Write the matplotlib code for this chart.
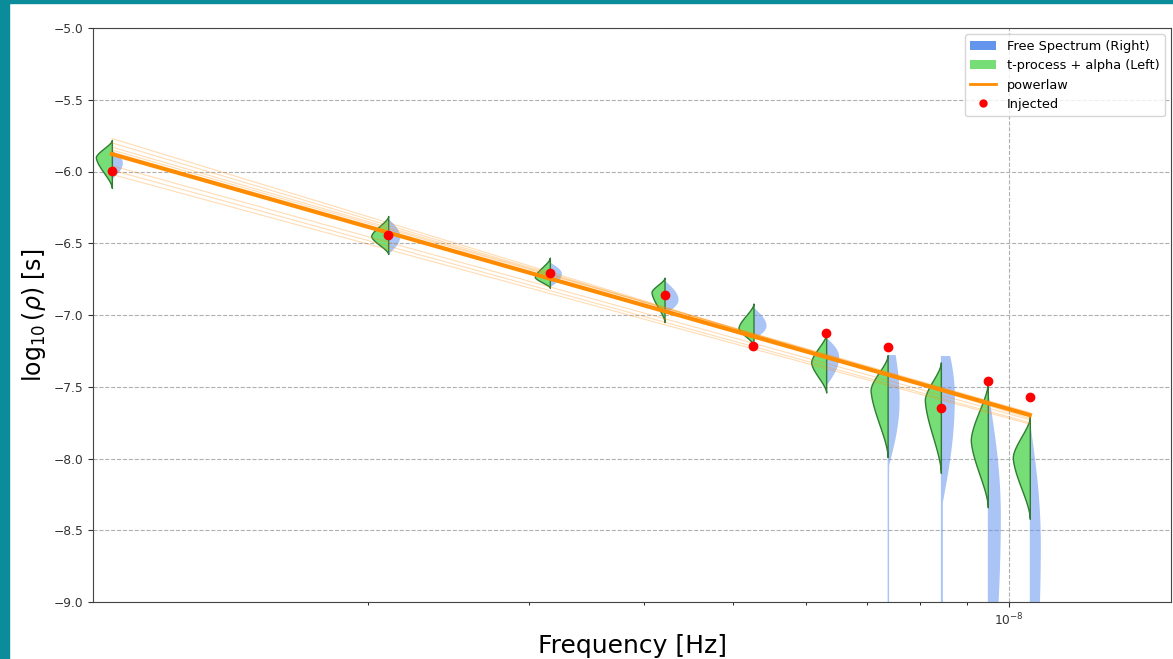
import numpy as np
import matplotlib
matplotlib.use("Agg")
import matplotlib.pyplot as plt
from matplotlib.patches import Patch, Rectangle
from matplotlib.lines import Line2D

# ---------------- data ----------------
Tspan = 9.5e8  # s
harmonics = np.arange(1, 11)
freqs = harmonics / Tspan

injected = [-5.994, -6.443, -6.707, -6.861, -7.216, -7.125, -7.223, -7.648, -7.460, -7.571]

# t-process + alpha (left halves): mode, top, bottom, peak half-width (px)
g_mode = [-5.90, -6.45, -6.735, -6.84, -7.09, -7.33, -7.52, -7.59, -7.87, -7.99]
g_top = [-5.78, -6.31, -6.60, -6.74, -6.92, -7.13, -7.28, -7.33, -7.47, -7.71]
g_bot = [-6.115, -6.575, -6.81, -7.05, -7.21, -7.54, -7.99, -8.10, -8.34, -8.42]
g_wpx = [16, 17, 15, 13, 15, 15, 17, 16, 17, 17]

# Free spectrum (right halves)
b_mode = [-5.94, -6.456, -6.714, -6.895, -7.077, -7.293, -7.59, -7.57, -8.40, -8.60]
b_top = [-5.85, -6.324, -6.631, -6.756, -6.944, -7.153, -7.00, -7.03, -7.49, -7.71]
b_bot = [-6.06, -6.582, -6.812, -7.00, -7.174, -7.502, -8.10, -8.40, -10.0, -10.2]
b_cut = [-5.85, -6.324, -6.631, -6.756, -6.944, -7.153, -7.279, -7.286, -7.49, -7.71]
b_wpx = [11, 12, 12, 14, 13, 13, 12, 14, 13, 11]
b_tail = [0, 0, 0, 0, 0, 0, 1.5, 2.0, 0, 0]

# powerlaw: log10 rho at f1 and f10
pl_main = (-5.878, -7.697)
pl_samples = [(-5.77, -7.72), (-5.80, -7.71), (-5.83, -7.69), (-5.85, -7.68),
              (-5.96, -7.73), (-5.99, -7.75), (-6.02, -7.76)]

# ---------------- figure ----------------
W, H = 1173, 659
fig = plt.figure(figsize=(W / 100, H / 100), dpi=100)
fig.patches.append(Rectangle((0, 0), 9 / W, 1, transform=fig.transFigure,
                             color="#0a8c9a", zorder=-1))
fig.patches.append(Rectangle((0, 1 - 3 / H), 1, 3 / H, transform=fig.transFigure,
                             color="#0a8c9a", zorder=-1))

ax = fig.add_axes([93 / W, 1 - 602 / H, (1171 - 93) / W, (602 - 28) / H])
ax.set_xscale("log")
ax.set_xlim(1.004e-9, 1.5e-8)
ax.set_ylim(-9, -5)

px_per_decade = 917.0


def shape(y, mode, top, bot, p, q):
    t = np.where(y >= mode, (y - mode) / (top - mode), (mode - y) / (mode - bot))
    t = np.clip(t, 0, 1)
    return (1 - t ** p) ** q


for i, f in enumerate(freqs):
    # green left half
    y = np.linspace(g_bot[i], g_top[i], 300)
    w = g_wpx[i] / px_per_decade * shape(y, g_mode[i], g_top[i], g_bot[i], 1.6, 1.7)
    ax.fill_betweenx(y, f * 10 ** (-w), f, facecolor="#77dd77", edgecolor="#2e7d32",
                     linewidth=1.0, zorder=3)
    # blue right half
    ylo = max(b_bot[i], -9.5)
    if b_tail[i] > 0:
        ylo = -9.5
    y = np.linspace(ylo, b_cut[i], 400)
    w = b_wpx[i] * shape(y, b_mode[i], b_top[i], b_bot[i], 2.0, 1.25)
    if b_tail[i] > 0:
        w = np.maximum(w, np.where(y < b_mode[i], b_tail[i], 0))
    w = w / px_per_decade
    ax.fill_betweenx(y, f, f * 10 ** w, facecolor="cornflowerblue", alpha=0.55,
                     edgecolor="none", linewidth=0, zorder=2)

# powerlaw lines
for a, b in pl_samples:
    ax.plot(freqs[[0, -1]], [a, b], color="darkorange", alpha=0.3, lw=0.8, zorder=4)
ax.plot(freqs[[0, -1]], list(pl_main), color="darkorange", lw=3.0, zorder=5)

ax.plot(freqs, injected, "o", color="red", ms=6, zorder=6, linestyle="none")

ax.grid(True, which="major", linestyle="--", color="#b0b0b0", lw=0.8)
ax.set_axisbelow(True)
for s in ax.spines.values():
    s.set_color("#444444")
ax.tick_params(labelsize=8.8, colors="#333333")
ax.set_xlabel("Frequency [Hz]", fontsize=18)
ax.set_ylabel(r"$\log_{10}(\rho)$ [s]", fontsize=17)

handles = [Patch(facecolor="cornflowerblue", label="Free Spectrum (Right)"),
           Patch(facecolor="#77dd77", label="t-process + alpha (Left)"),
           Line2D([], [], color="darkorange", lw=2, label="powerlaw"),
           Line2D([], [], color="red", marker="o", ms=5, linestyle="none", label="Injected")]
ax.legend(handles=handles, loc="upper right", fontsize=9.3)

fig.savefig("out.png", dpi=100)
